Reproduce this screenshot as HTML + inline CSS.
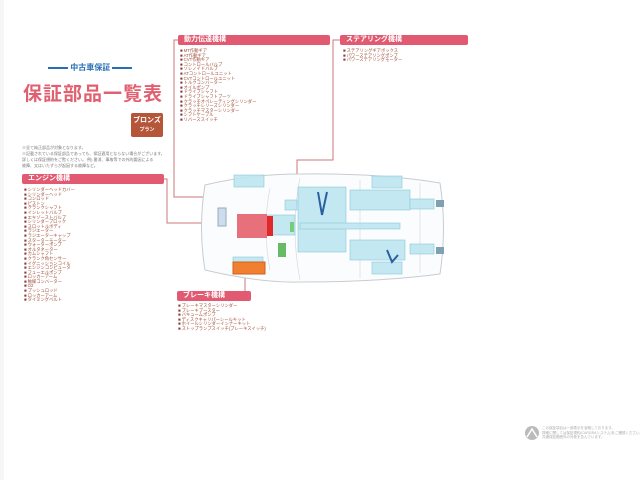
<!DOCTYPE html>
<html><head><meta charset="utf-8"><style>
body{margin:0;width:640px;height:480px;background:#fff;position:relative;overflow:hidden;font-family:"Liberation Sans","Noto Sans CJK JP",sans-serif}
.a{position:absolute}
.h{position:absolute;background:#e25a72;color:#fff;font-size:7px;font-weight:bold;height:10px;line-height:10px;padding-left:6px;border-radius:2px;box-sizing:border-box}
.l{position:absolute;font-size:4.3px;line-height:4.6px;color:#a0503a;white-space:nowrap}
.l div:before{content:"■";color:#8a3a3a;margin-right:1px}
</style></head><body>
<div class="a" style="left:0;top:0;width:4px;height:480px;background:#f6f6f6"></div>
<div class="a" style="left:48px;top:62px;font-size:8px;font-weight:bold;color:#2a6fb5;white-space:nowrap"><span style="display:inline-block;width:20px;height:2px;background:#2a6fb5;vertical-align:middle"></span> 中古車保証 <span style="display:inline-block;width:20px;height:2px;background:#2a6fb5;vertical-align:middle"></span></div>
<div class="a" style="left:23px;top:79px;font-size:19px;font-weight:bold;color:#e06070;letter-spacing:1px;white-space:nowrap">保証部品一覧表</div>
<div class="a" style="left:131px;top:113px;width:32px;height:24px;background:#b5553a;border-radius:2px;color:#fff;font-size:7px;font-weight:bold;text-align:center;line-height:9px;padding-top:3px;box-sizing:border-box">ブロンズ<br><span style="font-size:5px">プラン</span></div>
<div class="l" style="left:22px;top:145px;color:#777;font-size:4px;line-height:6px">※全て純正部品が対象となります。<br>※記載されている保証部品であっても、保証適用とならない場合がございます。<br>詳しくは保証規約をご覧ください。 例) 番消、事故等での外的要因による<br>故障、又はいたずらが起因する故障など。</div>

<div class="h" style="left:22px;top:174px;width:142px">エンジン機構</div>
<div class="l" style="left:24px;top:188px"><div>シリンダーヘッドカバー</div><div>シリンダーヘッド</div><div>コンロッド</div><div>ピストン</div><div>クランクシャフト</div><div>インレットバルブ</div><div>エキゾーストバルブ</div><div>シリンダーブロック</div><div>スロットルボディ</div><div>ラジエーター</div><div>ラジエーターキャップ</div><div>スターターモーター</div><div>ウォーターポンプ</div><div>オルタネーター</div><div>カムシャフト</div><div>クランク角センサー</div><div>イグニッションコイル</div><div>エンジンコンピュータ</div><div>フューエルポンプ</div><div>ロッカーアーム</div><div>触媒コンバーター</div><div>O2</div><div>プッシュロッド</div><div>ロッカーアーム</div><div>タイミングベルト</div></div>

<div class="h" style="left:178px;top:35px;width:152px">動力伝達機構</div>
<div class="l" style="left:180px;top:49px"><div>MT作動ギア</div><div>AT作動ギア</div><div>CVT作動ギア</div><div>コントロールバルブ</div><div>ソレノイドバルブ</div><div>ATコントロールユニット</div><div>CVTコントロールユニット</div><div>トルクコンバーター</div><div>オイルポンプ</div><div>ドライブシャフト</div><div>ドライブシャフトブーツ</div><div>クラッチオペレーティングシリンダー</div><div>クラッチレリーズシリンダー</div><div>クラッチマスターシリンダー</div><div>シフトケーブル</div><div>リバーススイッチ</div></div>

<div class="h" style="left:340px;top:35px;width:128px">ステアリング機構</div>
<div class="l" style="left:343px;top:49px"><div>ステアリングギアボックス</div><div>パワーステアリングポンプ</div><div>パワーステアリングモーター</div></div>

<div class="h" style="left:177px;top:291px;width:74px">ブレーキ機構</div>
<div class="l" style="left:178px;top:304px"><div>ブレーキマスターシリンダー</div><div>ブレーキブースター</div><div>バキュームポンプ</div><div>ディスクキャリパーシールキット</div><div>ホイールシリンダーインナーキット</div><div>ストップランプスイッチ(ブレーキスイッチ)</div></div>

<svg class="a" style="left:0;top:0" width="640" height="480">
<g fill="none" stroke="#c77" stroke-width="1">
<polyline points="178,40 174,40 174,197 270,197 270,215"/>
<polyline points="340,40 333,40 333,160 297,160 297,200"/>
<polyline points="164,179 167,179 167,223 248,223"/>
<line x1="245" y1="275" x2="245" y2="291"/>
</g>
<path d="M205,185 Q198,228 205,270 Q260,283 300,282 Q380,282 440,274 Q447,228 440,183 Q380,173 300,174 Q250,174 205,185Z" fill="#fafcfd" stroke="#c8ccd2" stroke-width="1"/>
<path d="M270,188 Q262,228 270,270 M300,178 Q290,228 300,280 M360,180 L360,278 M420,183 L420,273" fill="none" stroke="#d8dce0" stroke-width="0.7"/>
<g fill="#bfe6f0" stroke="#7cc3d6" stroke-width="0.6" opacity="0.9">
<rect x="234" y="175" width="30" height="12"/>
<rect x="233" y="257" width="30" height="10"/>
<rect x="298" y="187" width="48" height="65"/>
<rect x="350" y="190" width="60" height="20"/>
<rect x="350" y="240" width="55" height="20"/>
<rect x="372" y="176" width="30" height="12"/>
<rect x="372" y="262" width="30" height="12"/>
<rect x="300" y="223" width="100" height="6"/>
<rect x="410" y="199" width="24" height="10"/>
<rect x="410" y="244" width="24" height="10"/>
<rect x="255" y="215" width="40" height="20"/>
<rect x="285" y="200" width="12" height="10"/>
</g>
<rect x="436" y="200" width="8" height="7" fill="#7fa0b0"/>
<rect x="436" y="247" width="8" height="7" fill="#7fa0b0"/>
<path d="M318,192 L322,215 M327,192 L322,215" stroke="#2a5fa0" stroke-width="2" fill="none"/>
<path d="M387,250 L392,262 L398,255" stroke="#2a5fa0" stroke-width="2" fill="none"/>
<rect x="218" y="208" width="8" height="18" fill="#cde" stroke="#9ab"/>
<rect x="237" y="214" width="30" height="24" fill="#e8707a"/>
<rect x="267" y="216" width="6" height="20" fill="#e02828"/>
<rect x="290" y="222" width="4" height="10" fill="#7c7"/>
<rect x="278" y="243" width="8" height="14" fill="#6b6"/>
<rect x="233" y="262" width="32" height="12" fill="#f08030" stroke="#d06020"/>
<circle cx="532" cy="433" r="7" fill="#bbb"/>
<path d="M527,437 L532,429 L537,437" stroke="#fff" stroke-width="1.5" fill="none"/>
</svg>
<div class="l" style="left:542px;top:426px;color:#aaa;font-size:3.5px;line-height:4.5px">この保証項目は一部表示を省略しております。<br>詳細に関しては保証規約(CARGRAシステム)をご確認ください。<br>共通保証範囲外の対象を含んでいます。</div>
</body></html>
